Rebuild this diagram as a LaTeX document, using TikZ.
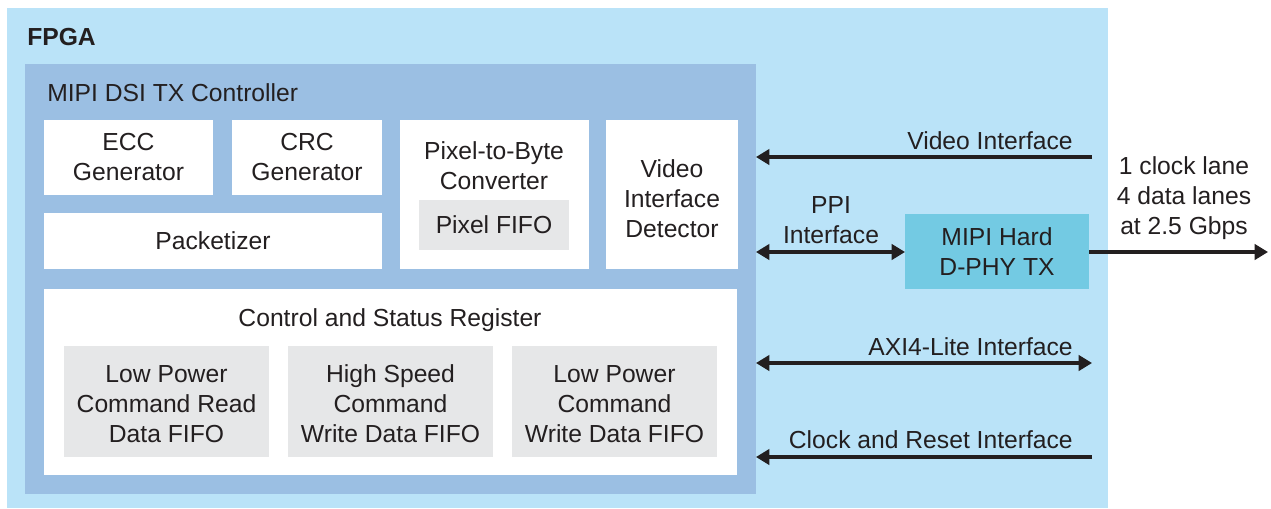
\documentclass[tikz,border=0pt]{standalone}
\usepackage{fontspec}
\setmainfont{Liberation Sans}
\usetikzlibrary{fit,arrows.meta}
\definecolor{fpgablue}{HTML}{BAE3F8}
\definecolor{ctrlblue}{HTML}{9BBFE3}
\definecolor{dphyblue}{HTML}{73CAE3}
\definecolor{fifogray}{HTML}{E6E7E8}
\definecolor{ink}{HTML}{231F20}
\tikzset{
  area/.style={inner sep=0pt, outer sep=0pt, draw=none},
  whitebox/.style={area, fill=white, align=center, text=ink},
  graybox/.style={area, fill=fifogray, align=center, text=ink},
  lbl/.style={inner sep=0pt, text=ink, align=center},
  conn/.style={draw=ink, line width=2.3pt, -{Triangle[length=10pt,width=11.5pt]}},
  bconn/.style={draw=ink, line width=2.3pt, {Triangle[length=10pt,width=11.5pt]}-{Triangle[length=10pt,width=11.5pt]}},
}
\begin{document}
\begin{tikzpicture}[x=0.75pt,y=-0.75pt,font=\fontsize{18.5}{22.5}\selectfont]
\useasboundingbox (0,0) rectangle (1271,508);
\fill[white] (0,0) rectangle (1271,508);
% FPGA region
\node[area, fill=fpgablue, fit={(7,8)(1108,508)}] (fpga) {};
\node[lbl, anchor=west, font=\fontsize{18.5}{22.5}\selectfont\bfseries] (fpgalbl) at (27,37) {FPGA};
% controller
\node[area, fill=ctrlblue, fit={(25,64)(756,494)}] (ctrl) {};
\node[lbl, anchor=west] (ctrllbl) at (47,93) {MIPI DSI TX Controller};
% blocks
\node[whitebox, fit={(44,120)(213,195)}] (ecc) {};
\node[lbl] at (ecc.center) {ECC\\Generator};
\node[whitebox, fit={(232,120)(382,195)}] (crc) {};
\node[lbl] at (crc.center) {CRC\\Generator};
\node[whitebox, fit={(44,213)(382,269)}] (pack) {};
\node[lbl] at (pack.center) {Packetizer};
\node[whitebox, fit={(400,120)(589,269)}] (p2b) {};
\node[lbl] (p2blbl) at (494,166) {Pixel-to-Byte\\Converter};
\node[graybox, fit={(419,200)(569,250)}] (pfifo) {};
\node[lbl] at (pfifo.center) {Pixel FIFO};
\node[whitebox, fit={(606,120)(738,269)}] (vid) {};
\node[lbl] at ([yshift=-3pt]vid.center) {Video\\Interface\\Detector};
% CSR
\node[whitebox, fit={(44,289)(737,475)}] (csr) {};
\node[lbl] (csrlbl) at (390,320) {Control and Status Register};
\node[graybox, fit={(64,346)(269,457)}] (f1) {};
\node[lbl] at ([yshift=-2pt]f1.center) {Low Power\\Command Read\\Data FIFO};
\node[graybox, fit={(288,346)(493,457)}] (f2) {};
\node[lbl] at ([yshift=-2pt]f2.center) {High Speed\\Command\\Write Data FIFO};
\node[graybox, fit={(512,346)(717,457)}] (f3) {};
\node[lbl] at ([yshift=-2pt]f3.center) {Low Power\\Command\\Write Data FIFO};
% D-PHY
\node[area, fill=dphyblue, fit={(905,214)(1089,289)}] (dphy) {};
\node[lbl] at (dphy.center) {MIPI Hard\\D-PHY TX};
% connector endpoints
\coordinate (vidin) at (1092,157);
\coordinate (vidend) at (756,157);
\coordinate (ppiend) at (756,252);
\coordinate (out) at (1268,252);
\coordinate (axiin) at (1092,363);
\coordinate (axiend) at (756,363);
\coordinate (clkin) at (1092,457);
\coordinate (clkend) at (756,457);
% connectors
\draw[conn] (vidin) -- (vidend);
\draw[bconn] (ppiend) -- (dphy.west |- ppiend);
\draw[conn] (dphy.east |- out) -- (out);
\draw[bconn] (axiend) -- (axiin);
\draw[conn] (clkin) -- (clkend);
% labels
\node[lbl, anchor=east] (vidlbl) at (1073,141) {Video Interface};
\node[lbl] (ppilbl) at (831,220) {PPI\\Interface};
\node[lbl] (lanelbl) at (1184,198) {1 clock lane\\4 data lanes\\at 2.5 Gbps};
\node[lbl, anchor=east] (axilbl) at (1073,347) {AXI4-Lite Interface};
\node[lbl, anchor=east] (clklbl) at (1073,440) {Clock and Reset Interface};
\end{tikzpicture}
\end{document}
